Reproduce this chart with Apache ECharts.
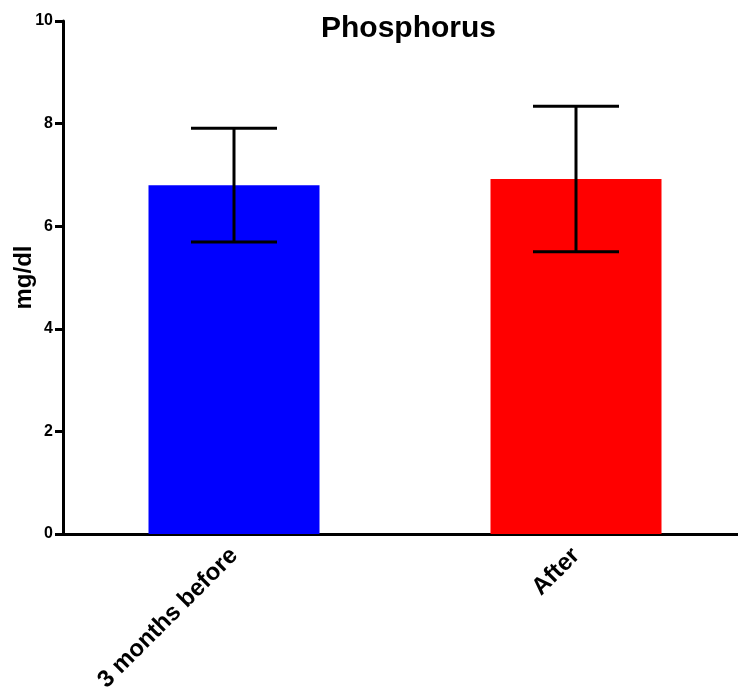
<!DOCTYPE html>
<html>
<head>
<meta charset="utf-8">
<script src="https://cdn.jsdelivr.net/npm/echarts@6/dist/echarts.min.js"></script>
<style>html,body{margin:0;padding:0;background:#fff}#c{width:738px;height:698px}</style>
</head>
<body>
<div id="c"></div>
<script>
var categories = ['3 months before', 'After'];
var means = [6.80, 6.92];
var errLow = [5.69, 5.50];
var errHigh = [7.91, 8.34];
var colors = ['#0000FF', '#FF0000'];
var yTicks = [0, 2, 4, 6, 8, 10];

var FONT = '"Liberation Sans", Arial, sans-serif';
var chart = echarts.init(document.getElementById('c'), null, {renderer: 'canvas'});
var errData = categories.map(function (c, i) { return [i, errLow[i], errHigh[i]]; });

chart.setOption({
  animation: false,
  title: {
    text: 'Phosphorus',
    left: 316, top: 9,
    textStyle: {fontFamily: FONT, fontWeight: 'bold', fontSize: 30, color: '#000'}
  },
  grid: {left: 63, width: 684, top: 21, bottom: 164, containLabel: false, outerBoundsMode: 'none'},
  xAxis: {
    type: 'category',
    data: categories,
    axisLine: {lineStyle: {color: '#000', width: 3}},
    axisTick: {alignWithLabel: true, length: 8, lineStyle: {color: '#000', width: 3}},
    axisLabel: {rotate: 45, margin: 18, fontFamily: FONT, fontWeight: 'bold', fontSize: 24, color: '#000'}
  },
  yAxis: {
    type: 'value',
    min: 0, max: 10, interval: 2,
    name: 'mg/dl',
    nameLocation: 'middle',
    nameGap: 27,
    nameMoveOverlap: false,
    nameTextStyle: {fontFamily: FONT, fontWeight: 'bold', fontSize: 24, color: '#000'},
    splitLine: {show: false},
    axisLine: {show: true, lineStyle: {color: '#000', width: 3}},
    axisTick: {show: true, length: 8, lineStyle: {color: '#000', width: 3}},
    axisLabel: {margin: 10, fontFamily: FONT, fontWeight: 'bold', fontSize: 16, color: '#000',
      formatter: function (v) { return yTicks.indexOf(v) >= 0 ? String(v) : ''; }}
  },
  series: [
    {
      type: 'bar',
      barWidth: '50%',
      data: means.map(function (v, i) { return {value: v, itemStyle: {color: colors[i]}}; }),
      z: 2
    },
    {
      type: 'custom',
      z: 5,
      data: errData,
      renderItem: function (params, api) {
        var x = api.value(0);
        var lo = api.coord([x, api.value(1)]);
        var hi = api.coord([x, api.value(2)]);
        var hw = 43;
        var st = {stroke: '#000', lineWidth: 3};
        return {
          type: 'group',
          children: [
            {type: 'line', shape: {x1: hi[0], y1: hi[1], x2: lo[0], y2: lo[1]}, style: st},
            {type: 'line', shape: {x1: hi[0] - hw, y1: hi[1], x2: hi[0] + hw, y2: hi[1]}, style: st},
            {type: 'line', shape: {x1: lo[0] - hw, y1: lo[1], x2: lo[0] + hw, y2: lo[1]}, style: st}
          ]
        };
      }
    }
  ]
});
</script>
</body>
</html>
